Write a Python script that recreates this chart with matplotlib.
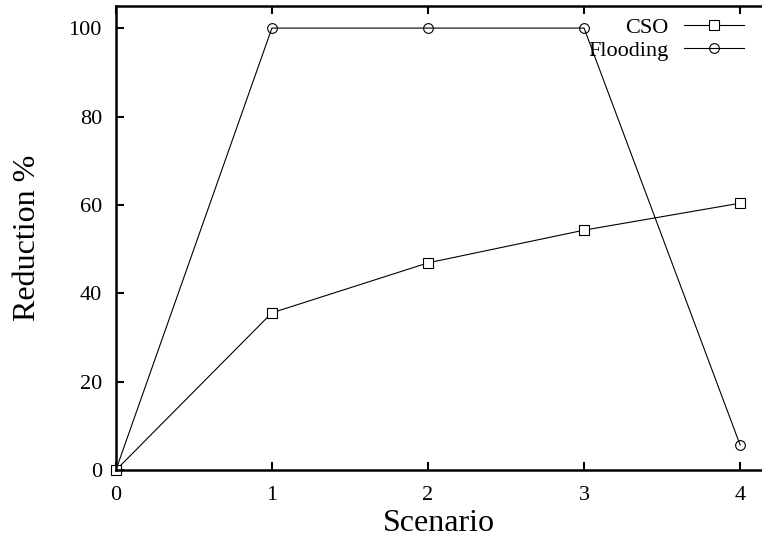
import matplotlib
matplotlib.use("Agg")
import matplotlib.pyplot as plt

# values
scenarios = [0, 1, 2, 3, 4]
cso = [0, 35.6, 46.9, 54.3, 60.4]
flooding = [0, 100, 100, 100, 5.7]

plt.rcParams['font.family'] = ['Liberation Serif', 'DejaVu Serif']

fig = plt.figure(figsize=(7.62, 5.43), dpi=100)
ax = fig.add_axes([0.152, 0.134, 0.848, 0.855])

ax.plot(scenarios, flooding, color='black', lw=0.8, marker='o', ms=7,
        mfc='none', mec='black', mew=0.8, label='Flooding', clip_on=False)
ax.plot(scenarios, cso, color='black', lw=0.8, marker='s', ms=7,
        mfc='white', mec='black', mew=0.8, label='CSO', clip_on=False)

ax.set_xlim(0, 4.14)
ax.set_ylim(0, 105)
ax.set_xticks([0, 1, 2, 3, 4])
ax.set_yticks([0, 20, 40, 60, 80, 100])
ax.tick_params(direction='in', length=6, width=1.5, labelsize=16,
               top=True, right=False)
ax.tick_params(axis='x', pad=11)
ax.tick_params(axis='y', pad=10)
for side in ['left', 'bottom', 'top']:
    ax.spines[side].set_linewidth(1.8)
ax.spines['right'].set_visible(False)

ax.set_xlabel('Scenario', fontsize=23, labelpad=3)
ax.set_ylabel('Reduction %', fontsize=23, labelpad=19)

# legend in gnuplot style: text first, sample after
handles, labels = ax.get_legend_handles_labels()
leg = ax.legend(handles[::-1], labels[::-1], loc='upper right',
                bbox_to_anchor=(0.99, 1.0), frameon=False,
                markerfirst=False, fontsize=16, handlelength=2.7,
                labelspacing=0.12, handletextpad=0.7, borderaxespad=0.1)
for t in leg.get_texts():
    t.set_ha('right')

fig.savefig('out.png', dpi=100)
